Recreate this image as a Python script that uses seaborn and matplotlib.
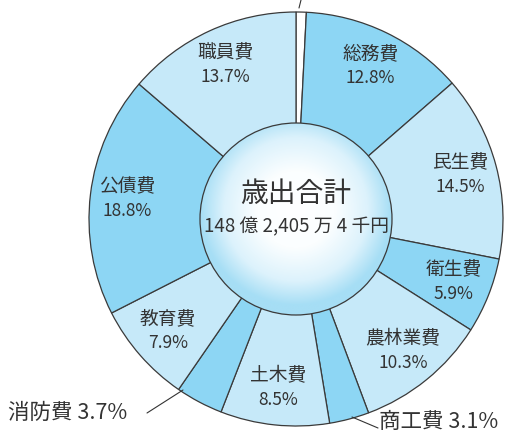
import numpy as np
import matplotlib
matplotlib.use("Agg")
import matplotlib.pyplot as plt
from matplotlib.patches import Circle
import seaborn as sns

# Data (clockwise from the top)
names = ["議会費", "総務費", "民生費", "衛生費", "農林業費", "商工費",
         "土木費", "消防費", "教育費", "公債費", "職員費"]
shares = [0.8, 12.8, 14.5, 5.9, 10.3, 3.1, 8.5, 3.7, 7.9, 18.8, 13.7]
inside = [False, True, True, True, True, False, True, False, True, True, True]
total_title = "歳出合計"
total_value = "148 億 2,405 万 4 千円"

sns.set_style("white")
plt.rcParams['font.family'] = ['Noto Sans CJK JP', 'DejaVu Sans']

light = "#c6e9f9"
mid = "#8dd6f4"
colors = ["#ffffff"] + [mid if i % 2 == 0 else light for i in range(len(shares) - 1)]

fig = plt.figure(figsize=(5.08, 4.34), dpi=100)
ax = fig.add_axes([0, 0, 1, 1])
ax.set_xlim(0, 508)
ax.set_ylim(0, 434)
ax.set_aspect('equal')
ax.axis('off')

cx, cy, R, r_in = 296, 215, 207, 96
txt = "#333333"

wedges, _ = ax.pie(shares, colors=colors, startangle=90, counterclock=False,
                   center=(cx, cy), radius=R,
                   wedgeprops=dict(edgecolor="#3a3a3a", linewidth=0.9))

# Labels inside the ring
for w, name, val, ins in zip(wedges, names, shares, inside):
    if not ins:
        continue
    a = np.deg2rad((w.theta1 + w.theta2) / 2)
    x = cx + 170 * np.cos(a)
    y = cy + 170 * np.sin(a)
    ax.text(x, y + 12, name, ha='center', va='center', fontsize=13.5, color=txt)
    ax.text(x, y - 12, f"{val}%", ha='center', va='center', fontsize=12.5,
            color=txt)

# Outside labels with leader lines
ax.plot([147, 183], [434 - 413, 434 - 390], color="#333333", lw=0.8)
ax.text(8, 434 - 413, f"{names[7]} {shares[7]}%", ha='left', va='center',
        fontsize=15.5, color=txt)
ax.plot([352, 378], [434 - 417, 434 - 428], color="#333333", lw=0.8)
ax.text(379, 434 - 422, f"{names[5]} {shares[5]}%", ha='left', va='center',
        fontsize=15.5, color=txt)
ax.plot([299, 301], [434 - 8, 434 - 0], color="#333333", lw=0.8)

# Center disc with radial gradient
n = 300
gx, gy = np.meshgrid(np.linspace(-1, 1, n), np.linspace(-1, 1, n))
d = np.clip(np.sqrt(gx ** 2 + (gy - 0.1) ** 2), 0, 1)
cmap = matplotlib.colors.LinearSegmentedColormap.from_list(
    "g", [(0.0, "#ffffff"), (0.4, "#fbfeff"), (0.75, "#dcf2fc"), (1.0, "#a6def5")])
im = ax.imshow(d, cmap=cmap, extent=(cx - r_in, cx + r_in, cy - r_in, cy + r_in),
               origin='lower', zorder=3)
clip = Circle((cx, cy), r_in, transform=ax.transData)
im.set_clip_path(clip)
ax.add_patch(Circle((cx, cy), r_in, fill=False, edgecolor="#3a3a3a", lw=0.9, zorder=4))
ax.set_xlim(0, 508)
ax.set_ylim(0, 434)

ax.text(cx, 434 - 194, total_title, ha='center', va='center', fontsize=20,
        color=txt, zorder=5)
ax.text(cx, 434 - 227, total_value, ha='center', va='center', fontsize=13.5,
        color=txt, zorder=5)

fig.savefig("out.png", dpi=100)
